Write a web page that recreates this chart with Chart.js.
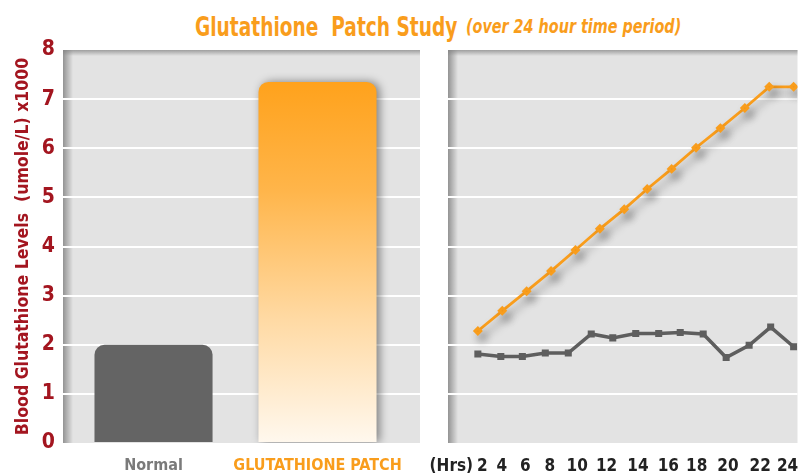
<!DOCTYPE html>
<html>
<head>
<meta charset="utf-8">
<script src="https://cdn.jsdelivr.net/npm/chart.js@4.4.0/dist/chart.umd.min.js"></script>
<style>
  html, body { margin: 0; padding: 0; background: #fff; }
  #wrap { position: relative; width: 805px; height: 473px; overflow: hidden; }
  .ttl { position: absolute; white-space: nowrap; color: #f99d1c; font-weight: bold;
         font-family: "DejaVu Sans Condensed", "DejaVu Sans", sans-serif; transform-origin: 0 0; }
  #titleMain { left: 195px; top: 13px; font-size: 27px; line-height: 27px; transform: scaleX(0.765); }
  #titleSub { left: 466px; top: 17px; font-size: 19px; line-height: 19px; font-style: italic; transform: scaleX(0.84); }
  #barChart { position: absolute; left: 0; top: 0; }
  #lineChart { position: absolute; left: 430px; top: 0; }
</style>
</head>
<body>
<div id="wrap">
  <div class="ttl" id="titleMain">Glutathione&nbsp; Patch Study</div>
  <div class="ttl" id="titleSub">(over 24 hour time period)</div>
  <canvas id="barChart" width="430" height="473"></canvas>
  <canvas id="lineChart" width="375" height="473"></canvas>
</div>
<script>
// Werte
var barLabels = ['Normal', 'GLUTATHIONE PATCH'];
var barValues = [2.0, 7.35];

var yTicks = [0, 1, 2, 3, 4, 5, 6, 7, 8];

// Stunden-Achse: Beschriftungen und wo sie stehen (in Stunden)
var hrLabels = ['(Hrs)', '2', '4', '6', '8', '10', '12', '14', '16', '18', '20', '22', '24'];
var hrTickHours = [0.15, 2.31, 3.67, 5.31, 7.01, 8.92, 10.97, 13.15, 15.27, 17.25, 19.42, 21.67, 23.58];

// Patch-Kurve
var patchHours = [2, 3.7, 5.4, 7.1, 8.8, 10.5, 12.2, 13.8, 15.5, 17.2, 18.9, 20.6, 22.3, 24];
var patchValues = [2.28, 2.69, 3.09, 3.50, 3.93, 4.36, 4.76, 5.17, 5.58, 6.01, 6.41, 6.82, 7.25, 7.25];

// Normal-Kurve
var normalHours = [2, 3.6, 5.1, 6.7, 8.3, 9.9, 11.4, 13, 14.6, 16.1, 17.7, 19.3, 20.9, 22.4, 24];
var normalValues = [1.81, 1.76, 1.76, 1.83, 1.83, 2.22, 2.14, 2.23, 2.23, 2.25, 2.22, 1.74, 1.99, 2.36, 1.96];

var FONT = '"DejaVu Sans Condensed", "DejaVu Sans", sans-serif';
var ORANGE = '#f99d1c';
var DARKRED = '#a3151f';
var PANEL = '#e3e3e3';

// grauer Hintergrund mit Schatten links und oben
var panelPlugin = {
  id: 'panel',
  beforeDraw: function (chart) {
    var a = chart.chartArea;
    var ctx = chart.ctx;
    ctx.save();
    ctx.fillStyle = PANEL;
    ctx.fillRect(a.left, a.top, a.right - a.left, a.bottom - a.top);
    var gl = ctx.createLinearGradient(a.left, 0, a.left + 10, 0);
    gl.addColorStop(0, 'rgba(120,120,120,0.75)');
    gl.addColorStop(1, 'rgba(120,120,120,0)');
    ctx.fillStyle = gl;
    ctx.fillRect(a.left, a.top, 10, a.bottom - a.top);
    var gt = ctx.createLinearGradient(0, a.top, 0, a.top + 6);
    gt.addColorStop(0, 'rgba(130,130,130,0.7)');
    gt.addColorStop(1, 'rgba(130,130,130,0)');
    ctx.fillStyle = gt;
    ctx.fillRect(a.left, a.top, a.right - a.left, 6);
    ctx.restore();
  }
};

function shadowPlugin(id, color, blur, dx, dy, onlyIndex) {
  return {
    id: id,
    beforeDatasetDraw: function (chart, args) {
      if (onlyIndex !== undefined && args.index !== onlyIndex) return;
      var ctx = chart.ctx;
      ctx.save();
      ctx.shadowColor = color;
      ctx.shadowBlur = blur;
      ctx.shadowOffsetX = dx;
      ctx.shadowOffsetY = dy;
    },
    afterDatasetDraw: function (chart, args) {
      if (onlyIndex !== undefined && args.index !== onlyIndex) return;
      chart.ctx.restore();
    }
  };
}

function gridColor(ctx) {
  var v = ctx.tick ? ctx.tick.value : 0;
  return (v > 0 && v < 8) ? '#ffffff' : 'rgba(0,0,0,0)';
}

function patchGradient(context) {
  var chart = context.chart;
  var a = chart.chartArea;
  if (!a) return ORANGE;
  var y = chart.scales.y;
  var g = chart.ctx.createLinearGradient(0, y.getPixelForValue(barValues[1]), 0, a.bottom);
  g.addColorStop(0, '#ffa21c');
  g.addColorStop(0.3, '#ffb54a');
  g.addColorStop(0.65, '#ffd9a2');
  g.addColorStop(1, '#fff8ee');
  return g;
}

function zeroPad(scale) {
  scale.paddingTop = 0;
  scale.paddingBottom = 0;
  scale.paddingLeft = 0;
  scale.paddingRight = 0;
}

new Chart(document.getElementById('barChart'), {
  type: 'bar',
  data: {
    datasets: [
      {
        label: barLabels[0],
        data: [{ x: 0, y: barValues[0] }],
        backgroundColor: '#646464',
        borderRadius: { topLeft: 10, topRight: 10 },
        borderSkipped: 'bottom',
        grouped: false
      },
      {
        label: barLabels[1],
        data: [{ x: 1, y: barValues[1] }],
        backgroundColor: patchGradient,
        borderRadius: { topLeft: 10, topRight: 10 },
        borderSkipped: 'bottom',
        grouped: false
      }
    ]
  },
  options: {
    responsive: false,
    animation: false,
    layout: { padding: { left: 4, top: 50, right: 10, bottom: 0 } },
    plugins: { legend: { display: false }, tooltip: { enabled: false } },
    scales: {
      x: {
        type: 'linear',
        offset: false,
        min: -0.552,
        max: 1.625,
        grid: { display: false, offset: false },
        border: { display: false },
        afterBuildTicks: function (scale) {
          scale.ticks = barLabels.map(function (l, i) { return { value: i }; });
        },
        afterFit: function (scale) { zeroPad(scale); scale.height = 30; },
        ticks: {
          autoSkip: false,
          maxRotation: 0,
          padding: 5,
          font: { family: FONT, size: 16, weight: 'bold' },
          color: function (ctx) { return ctx.index === 0 ? '#7a7a7a' : ORANGE; },
          callback: function (v, i) { return barLabels[i]; }
        }
      },
      y: {
        min: 0,
        max: 8,
        grid: { color: gridColor, lineWidth: 2, drawTicks: false },
        border: { display: false },
        afterBuildTicks: function (scale) {
          scale.ticks = yTicks.map(function (v) { return { value: v }; });
        },
        afterFit: function (scale) { zeroPad(scale); scale.width = 59; },
        ticks: {
          padding: 8,
          font: { family: FONT, size: 21, weight: 'bold' },
          color: DARKRED
        },
        title: {
          display: true,
          text: 'Blood Glutathione Levels  (umole/L) x1000',
          color: DARKRED,
          font: { family: FONT, size: 17.5, weight: 'bold' },
          padding: { top: 9, bottom: 0 }
        }
      }
    }
  },
  plugins: [panelPlugin, shadowPlugin('barShadow', 'rgba(0,0,0,0.45)', 10, 3, 0, 1)]
});

new Chart(document.getElementById('lineChart'), {
  type: 'line',
  data: {
    datasets: [
      {
        label: 'Normal',
        data: normalHours.map(function (h, i) { return { x: h, y: normalValues[i] }; }),
        borderColor: '#5e5e5e',
        backgroundColor: '#5e5e5e',
        borderWidth: 3.5,
        pointRadius: 2.5,
        pointStyle: 'rect',
        tension: 0
      },
      {
        label: 'Glutathione Patch',
        data: patchHours.map(function (h, i) { return { x: h, y: patchValues[i] }; }),
        borderColor: ORANGE,
        backgroundColor: ORANGE,
        borderWidth: 2.8,
        pointRadius: 3,
        pointStyle: 'rectRot',
        tension: 0
      }
    ]
  },
  options: {
    responsive: false,
    animation: false,
    layout: { padding: { left: 18, top: 50, right: 0, bottom: 0 } },
    plugins: { legend: { display: false }, tooltip: { enabled: false } },
    scales: {
      x: {
        type: 'linear',
        min: -0.08,
        max: 24.27,
        grid: { display: false },
        border: { display: false },
        afterBuildTicks: function (scale) {
          scale.ticks = hrTickHours.map(function (v) { return { value: v }; });
        },
        afterFit: function (scale) { zeroPad(scale); scale.height = 30; },
        ticks: {
          autoSkip: false,
          maxRotation: 0,
          padding: 5,
          font: { family: FONT, size: 17, weight: 'bold' },
          color: '#222222',
          callback: function (v, i) { return hrLabels[i]; }
        }
      },
      y: {
        min: 0,
        max: 8,
        grid: { color: gridColor, lineWidth: 2, drawTicks: false },
        border: { display: false },
        afterBuildTicks: function (scale) {
          scale.ticks = yTicks.map(function (v) { return { value: v }; });
        },
        afterFit: function (scale) { zeroPad(scale); scale.width = 0; },
        ticks: { display: false }
      }
    }
  },
  plugins: [panelPlugin, shadowPlugin('lineShadow', 'rgba(0,0,0,0.35)', 9, 4, 6, 1)]
});
</script>
</body>
</html>
